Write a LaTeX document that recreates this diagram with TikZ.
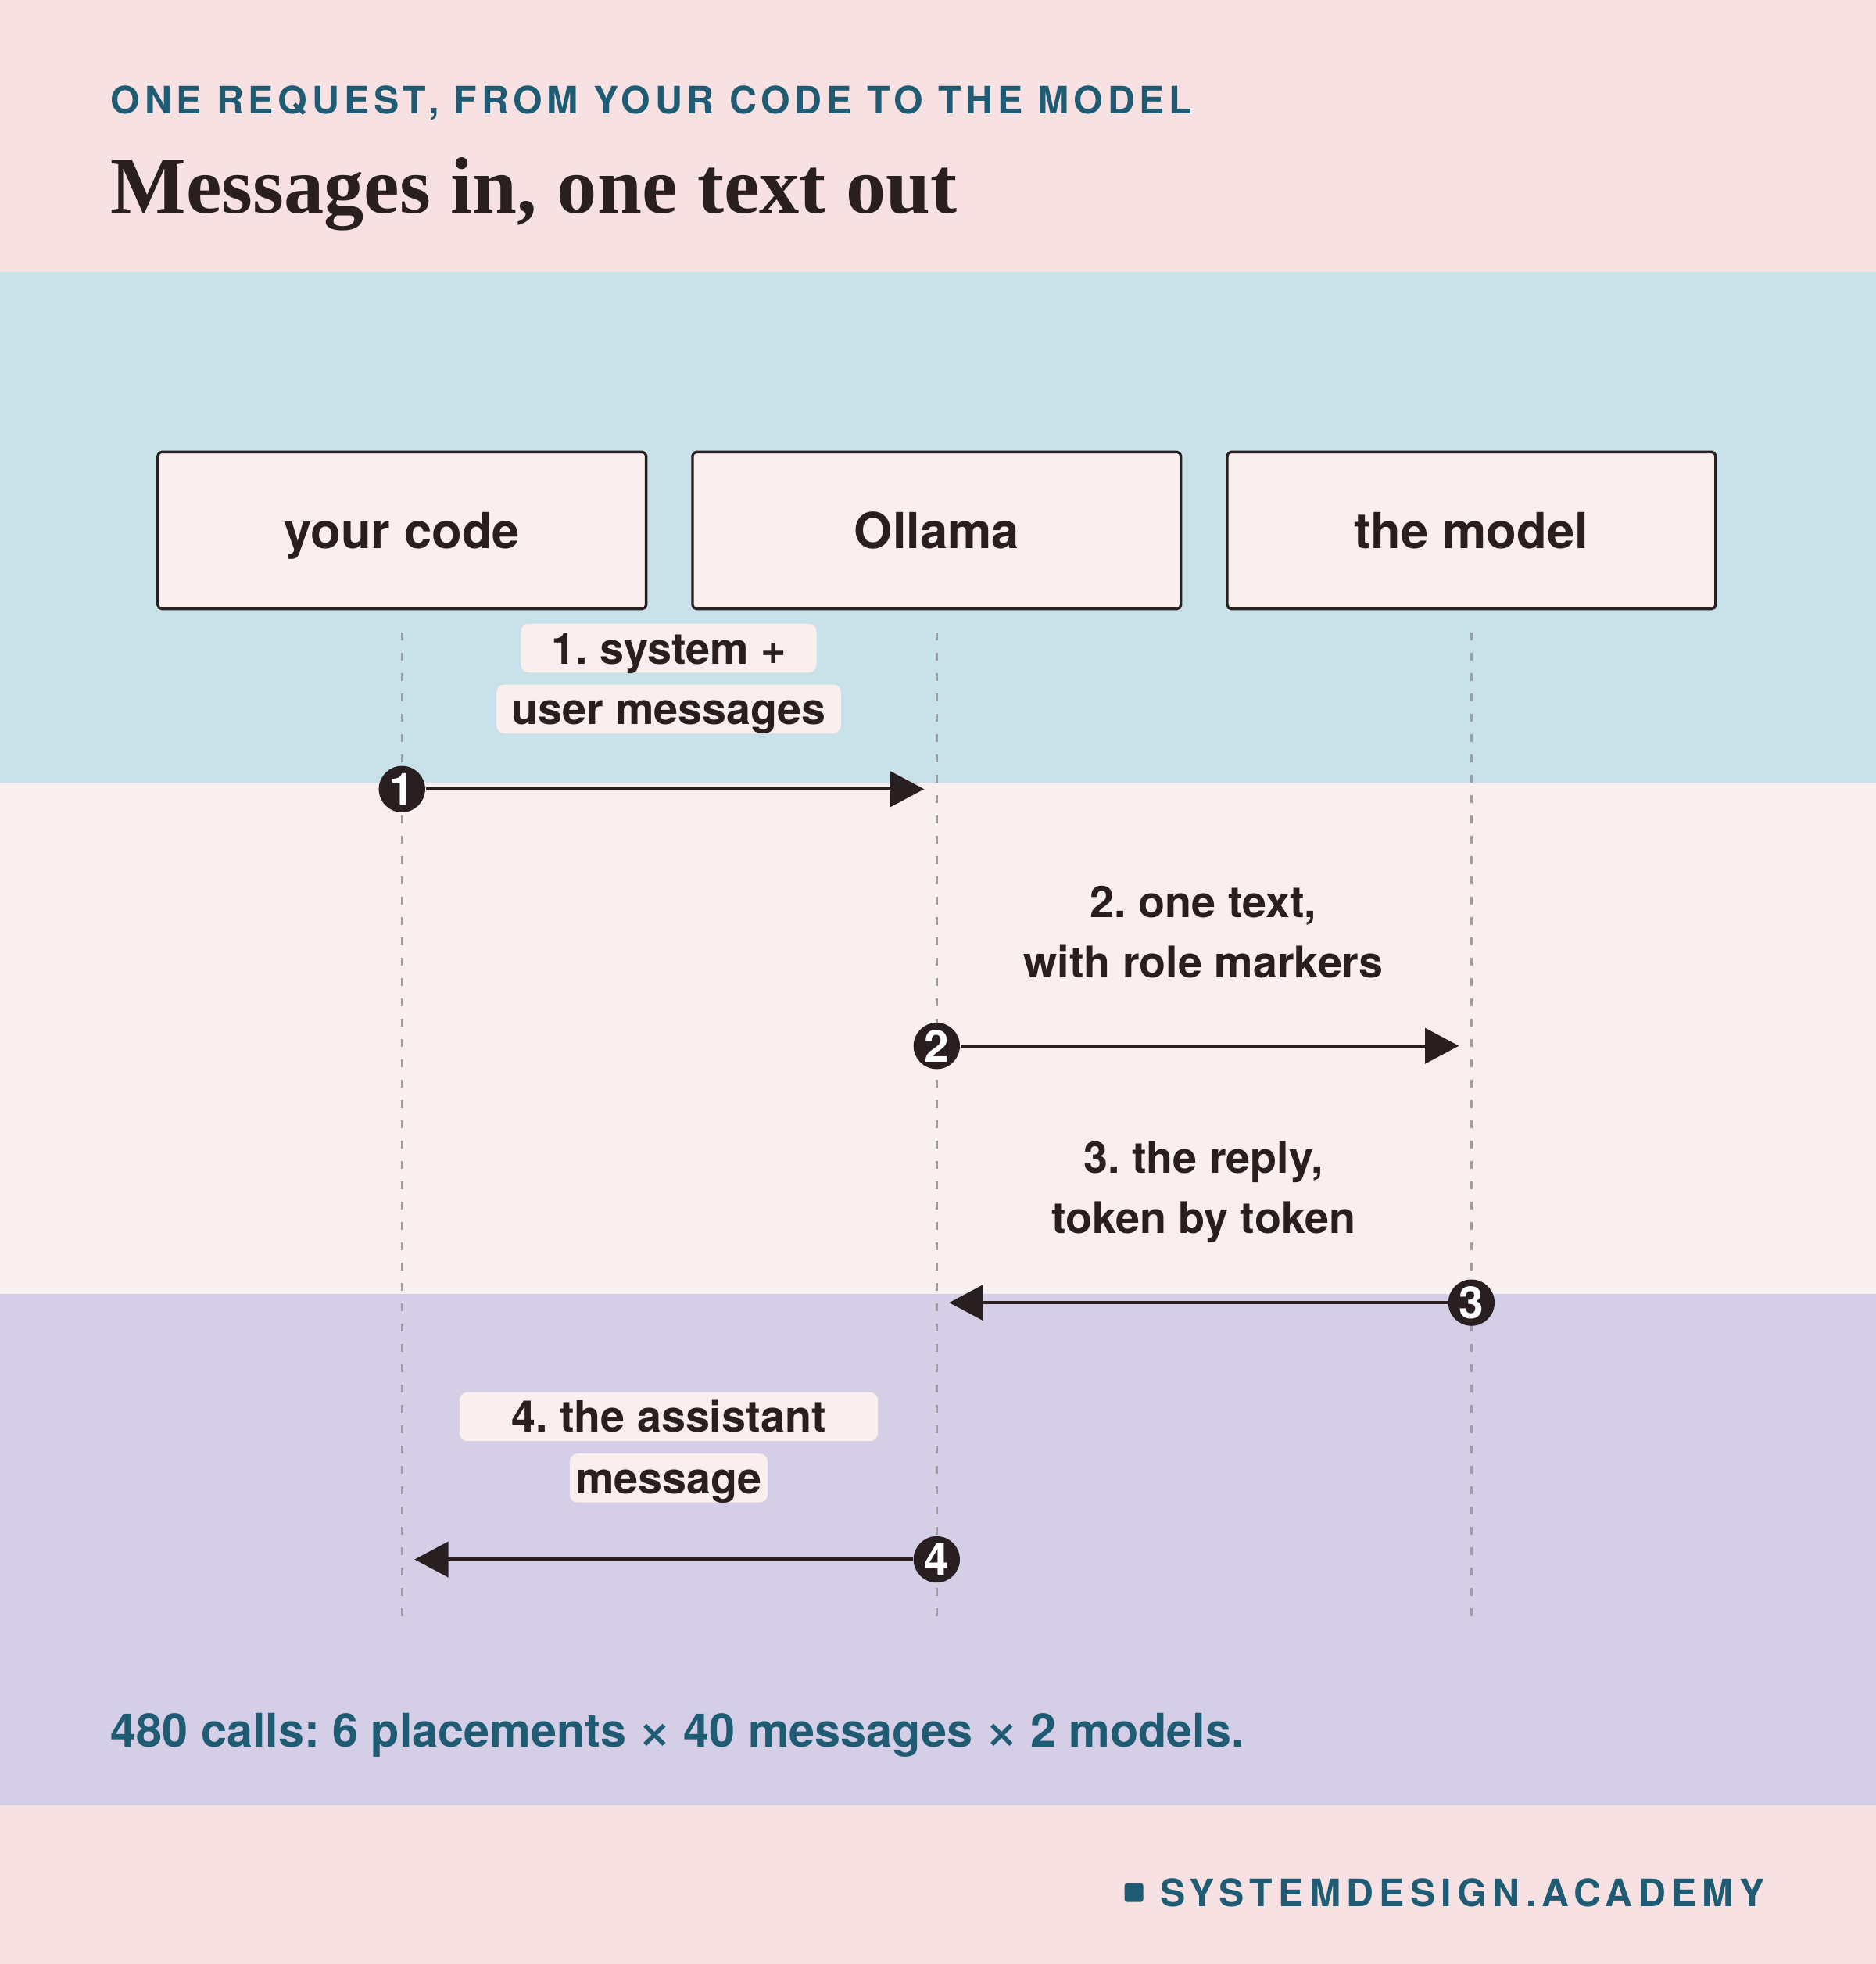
\documentclass[tikz,border=0pt]{standalone}
\usepackage{fontspec}
\setmainfont{TeX Gyre Heros}
\newfontfamily\kickerfont[LetterSpace=12]{TeX Gyre Heros}
\newfontfamily\brandfont[LetterSpace=15]{TeX Gyre Heros}
\newfontfamily\titleserif{Liberation Serif}
\newfontfamily\symfont{DejaVu Sans}
\usetikzlibrary{arrows.meta}
\definecolor{bgpink}{HTML}{F8E1E3}
\definecolor{bgblue}{HTML}{C9E1E9}
\definecolor{bglight}{HTML}{F9EFEE}
\definecolor{bglav}{HTML}{D4CEE6}
\definecolor{paper}{HTML}{F9EFEE}
\definecolor{ink}{HTML}{2A1F20}
\definecolor{teal}{HTML}{1F5C73}
\definecolor{lifegray}{HTML}{A09CA0}
\def\pxu{0.48064pt}
\newcommand\timesglyph{{\symfont\bfseries\fontsize{14.5}{17}\selectfont ×}}
\frenchspacing
\begin{document}
\begin{tikzpicture}[x=0.48064pt,y=-0.48064pt,
  actor/.style={draw=ink, line width=1pt, fill=paper, rounded corners=1.5pt,
    minimum width=390*\pxu, minimum height=125*\pxu, inner sep=0pt,
    font=\bfseries\fontsize{19}{22}\selectfont, text=ink,
    text height=14pt, text depth=0.4pt},
  lbl/.style={inner xsep=0pt, inner ysep=0pt, rounded corners=3pt,
    font=\bfseries\fontsize{16.7}{20}\selectfont, text=ink,
    text height=12.6pt, text depth=0.6pt, minimum height=39*\pxu},
  lblbg/.style={lbl, fill=paper},
  life/.style={draw=lifegray, line width=0.85pt, dash pattern=on 3pt off 4.8pt},
  msg/.style={draw=ink, line width=1.25pt, -{Triangle[length=13pt,width=13.5pt]}},
  badge/.style={circle, fill=ink, text=white, minimum size=37*\pxu, inner sep=0pt,
    font=\bfseries\fontsize{17}{18}\selectfont},
  plaintext/.style={anchor=base west, inner sep=0pt}
]
\useasboundingbox (0,0) rectangle (1498,1568);
% bands
\fill[bgpink] (0,0) rectangle (1498,217);
\fill[bgblue] (0,217) rectangle (1498,625);
\fill[bglight] (0,625) rectangle (1498,1033);
\fill[bglav] (0,1033) rectangle (1498,1441);
\fill[bgpink] (0,1441) rectangle (1498,1568);

% header
\node[plaintext, text=teal, font=\kickerfont\bfseries\fontsize{14.5}{17}\selectfont] (kicker) at (88,91) {ONE REQUEST, FROM YOUR CODE TO THE MODEL};
\node[plaintext, text=ink, font=\titleserif\bfseries\fontsize{30.7}{36}\selectfont] (title) at (88,170) {Messages in, one text out};

% lifelines
\coordinate (code-top) at (321,505);
\coordinate (code-bot) at (321,1290);
\coordinate (oll-top) at (748,505);
\coordinate (oll-bot) at (748,1290);
\coordinate (mod-top) at (1175,505);
\coordinate (mod-bot) at (1175,1290);
\draw[life] (code-top) -- (code-bot);
\draw[life] (oll-top) -- (oll-bot);
\draw[life] (mod-top) -- (mod-bot);

% actors
\node[actor] (code) at (321,423.5) {your code};
\node[actor] (ollama) at (748,423.5) {Ollama};
\node[actor] (model) at (1175,423.5) {the model};

% labels
\node[lblbg, minimum width=236*\pxu] (l1a) at (534,517.5) {1. system +};
\node[lblbg, minimum width=275*\pxu] (l1b) at (534,566) {user messages};
\node[lbl] (l2a) at (961,720) {2. one text,};
\node[lbl] (l2b) at (961,768) {with role markers};
\node[lbl] (l3a) at (961,924) {3. the reply,};
\node[lbl] (l3b) at (961,972) {token by token};
\node[lblbg, minimum width=334*\pxu] (l4a) at (534,1131) {4. the assistant};
\node[lblbg, minimum width=158*\pxu] (l4b) at (534,1180) {message};

% badges
\node[badge] (b1) at (321,630) {1};
\node[badge] (b2) at (748,835) {2};
\node[badge] (b3) at (1175,1040) {3};
\node[badge] (b4) at (748,1245) {4};

% arrows
\coordinate (t1) at (738,630);
\coordinate (t2) at (1165,835);
\coordinate (t3) at (758,1040);
\coordinate (t4) at (331,1245);
\draw[msg] (b1) -- (t1);
\draw[msg] (b2) -- (t2);
\draw[msg] (b3) -- (t3);
\draw[msg] (b4) -- (t4);

% footer
\node[plaintext, text=teal, font=\bfseries\fontsize{17.8}{21}\selectfont] (footer) at (88,1395) {480 calls: 6 placements \timesglyph{} 40 messages \timesglyph{} 2 models.};
\node[fill=teal, rounded corners=1pt, minimum size=15*\pxu, inner sep=0pt] (brandsq) at (905.5,1511) {};
\node[plaintext, text=teal, font=\brandfont\bfseries\fontsize{14.5}{17}\selectfont] (brand) at (926,1522) {SYSTEMDESIGN.ACADEMY};
\end{tikzpicture}
\end{document}
